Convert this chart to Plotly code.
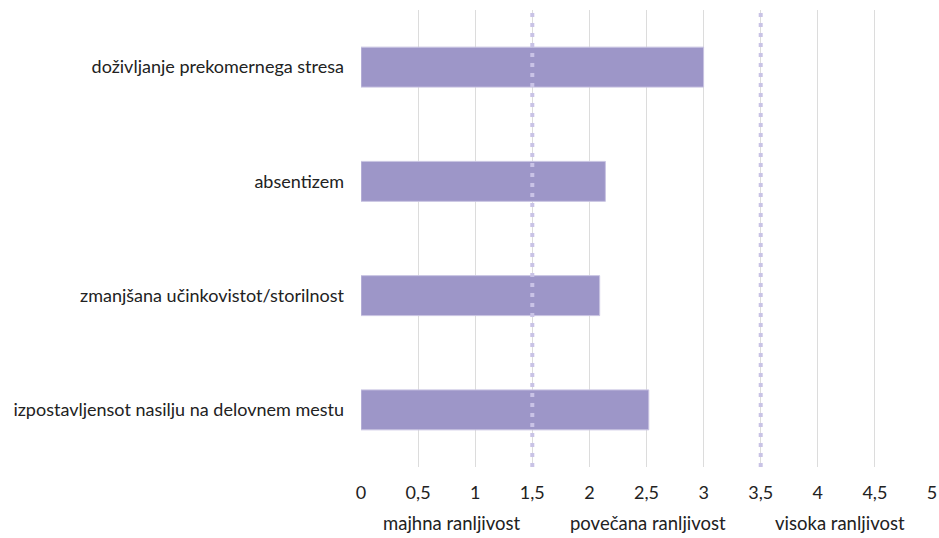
import plotly.graph_objects as go

categories = [
    "doživljanje prekomernega stresa",
    "absentizem",
    "zmanjšana učinkovistot/storilnost",
    "izpostavljensot nasilju na delovnem mestu",
]
values = [3.0, 2.14, 2.09, 2.52]

tick_vals = [0, 0.5, 1, 1.5, 2, 2.5, 3, 3.5, 4, 4.5, 5]
tick_text = ["0", "0,5", "1", "1,5", "2", "2,5", "3", "3,5", "4", "4,5", "5"]

threshold_x = [1.5, 3.5]
zone_labels = ["majhna ranljivost", "povečana ranljivost", "visoka ranljivost"]
zone_label_x = [0.8, 2.51, 4.19]

font_family = "Lato, 'Open Sans', sans-serif"

fig = go.Figure(
    go.Bar(
        x=values,
        y=categories,
        orientation="h",
        width=0.35,
        marker=dict(color="#9D96C8", line=dict(color="#C9C4E2", width=1)),
        hoverinfo="x+y",
    )
)

# dotted threshold lines between vulnerability zones
for tx in threshold_x:
    fig.add_shape(
        type="line",
        x0=tx, x1=tx, y0=0, y1=1,
        xref="x", yref="paper",
        line=dict(color="#C9C3E6", width=4, dash="4px,6px"),
        layer="above",
    )

for label, lx in zip(zone_labels, zone_label_x):
    fig.add_annotation(
        x=lx, y=-0.1225, xref="x", yref="paper",
        text=label, showarrow=False,
        font=dict(family=font_family, size=18.5, color="#222222"),
        yanchor="middle",
    )

fig.update_layout(
    width=939,
    height=538,
    margin=dict(l=361, r=7, t=10, b=71, autoexpand=False),
    plot_bgcolor="white",
    paper_bgcolor="white",
    showlegend=False,
    bargap=0.65,
    font=dict(family=font_family, size=18, color="#222222"),
    xaxis=dict(
        range=[0, 5],
        tickvals=tick_vals,
        ticktext=tick_text,
        showgrid=True,
        gridcolor="#DCDCDC",
        gridwidth=1.2,
        zeroline=False,
        showline=False,
        ticks="",
        tickfont=dict(size=18),
        ticklabelstandoff=13,
        automargin=False,
    ),
    yaxis=dict(
        categoryorder="array",
        categoryarray=categories,
        autorange="reversed",
        showgrid=False,
        zeroline=False,
        showline=False,
        ticks="",
        ticklabelstandoff=16,
        tickfont=dict(size=18),
        automargin=False,
    ),
)

fig.write_html("out.html")
